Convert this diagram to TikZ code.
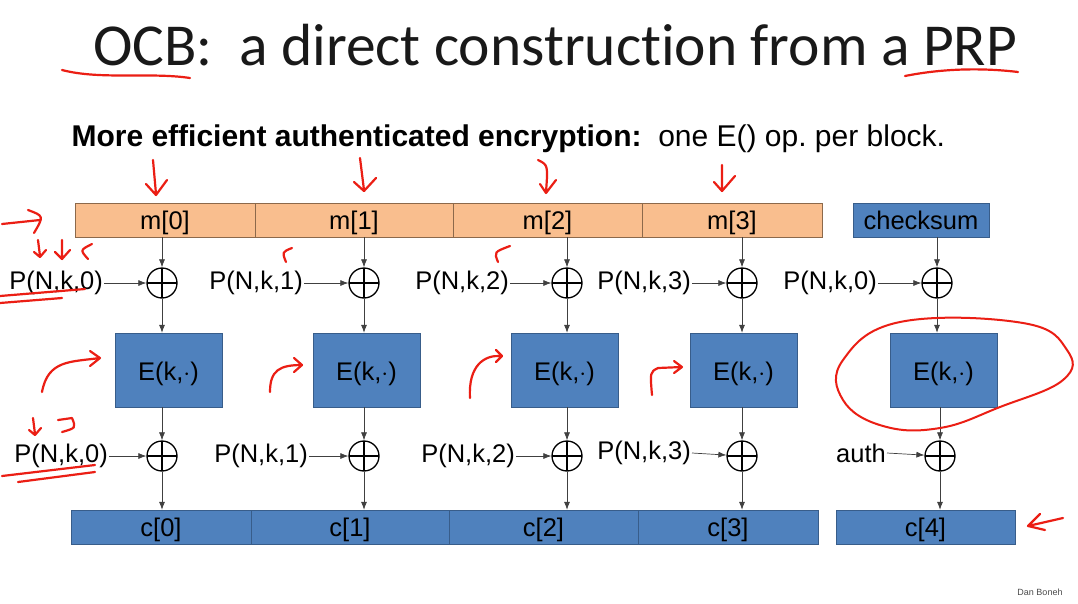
\documentclass[tikz,border=0pt]{standalone}
\usepackage{fontspec}
\setmainfont{Liberation Sans}
\newfontfamily\titlefont[Ligatures=NoCommon]{Carlito}
\usetikzlibrary{arrows.meta,positioning,calc}
\definecolor{msgfill}{RGB}{249,190,142}
\definecolor{msgline}{RGB}{140,105,75}
\definecolor{blkfill}{RGB}{79,129,189}
\definecolor{blkline}{RGB}{56,93,138}
\definecolor{inkred}{RGB}{235,30,20}
\newcommand{\lbfont}{\fontsize{25.5}{30}\selectfont}
\frenchspacing

\begin{document}
\begin{tikzpicture}[x=1pt, y=-1pt,
  tx/.style={text height=19.5pt, text depth=0pt, font=\lbfont},
  mb/.style={tx, draw=msgline, fill=msgfill, minimum height=34pt, inner sep=0pt},
  cb/.style={tx, draw=blkline, fill=blkfill, minimum height=34pt, inner sep=0pt},
  eb/.style={draw=blkline, fill=blkfill, minimum width=107pt, minimum height=74pt, inner sep=0pt,
    text height=21pt, text depth=0pt, font=\lbfont},
  xr/.style={circle, draw, line width=1.3pt, minimum size=30pt, inner sep=0pt,
    path picture={\draw[line width=1.3pt] (path picture bounding box.north) -- (path picture bounding box.south)
      (path picture bounding box.west) -- (path picture bounding box.east);}},
  lb/.style={anchor=east, inner sep=1pt, font=\lbfont},
  ar/.style={-{Latex[length=8pt,width=6pt]}, draw=black!75, line width=0.7pt},
  ink/.style={inkred, line width=2.2pt, line cap=round, line join=round}
]
\useasboundingbox[fill=white] (0,0) rectangle (1078,603);

% title
\node[font=\titlefont\fontsize{59.5}{68}\selectfont, text=black!90] (ttl) at (555,45) {OCB:\ \ a direct construction from a PRP};
\node[anchor=west, font=\fontsize{30}{34}\selectfont] (sub) at (68,139) {\textbf{More efficient authenticated encryption:}\ \ one E() op. per block.};

% message blocks
\node[mb, minimum width=180pt] (m0) at (165,220) {m[0]};
\node[mb, minimum width=198pt] (m1) at (354,220) {m[1]};
\node[mb, minimum width=189pt] (m2) at (547.5,220) {m[2]};
\node[mb, minimum width=180pt] (m3) at (732,220) {m[3]};
\node[cb, minimum width=136pt] (chk) at (921,220) {checksum};

% first xor row
\node[xr] (x0) at (162,283) {};
\node[xr] (x1) at (364,283) {};
\node[xr] (x2) at (567,283) {};
\node[xr] (x3) at (742,283) {};
\node[xr] (x4) at (937,283) {};
\node[lb] (p0) at (104,283) {P(N,k,0)};
\node[lb] (p1) at (304,283) {P(N,k,1)};
\node[lb] (p2) at (510,283) {P(N,k,2)};
\node[lb] (p3) at (692,283) {P(N,k,3)};
\node[lb] (p4) at (878,283) {P(N,k,0)};

% block cipher calls
\node[eb] (e0) at (168.5,370) {E(k,$\cdot$)};
\node[eb] (e1) at (366.5,370) {E(k,$\cdot$)};
\node[eb] (e2) at (564.5,370) {E(k,$\cdot$)};
\node[eb] (e3) at (743.5,370) {E(k,$\cdot$)};
\node[eb] (e4) at (943.5,370) {E(k,$\cdot$)};

% second xor row
\node[xr] (y0) at (162,456) {};
\node[xr] (y1) at (364,456) {};
\node[xr] (y2) at (567,456) {};
\node[xr] (y3) at (742,456) {};
\node[xr] (y4) at (940,456) {};
\node[lb] (q0) at (109,456) {P(N,k,0)};
\node[lb] (q1) at (309,456) {P(N,k,1)};
\node[lb] (q2) at (516,456) {P(N,k,2)};
\node[lb] (q3) at (692,453) {P(N,k,3)};
\node[lb] (au) at (887,453) {auth};

% ciphertext blocks
\node[cb, minimum width=180pt] (c0) at (161,527) {c[0]};
\node[cb, minimum width=198pt] (c1) at (350,527) {c[1]};
\node[cb, minimum width=189pt] (c2) at (543.5,527) {c[2]};
\node[cb, minimum width=180pt] (c3) at (728,527) {c[3]};
\node[cb, minimum width=179pt] (c4) at (925.5,527) {c[4]};

% connectors
\draw[ar] (m0.south -| x0) -- (x0);
\draw[ar] (m1.south -| x1) -- (x1);
\draw[ar] (m2.south -| x2) -- (x2);
\draw[ar] (m3.south -| x3) -- (x3);
\draw[ar] (chk.south -| x4) -- (x4);
\draw[ar] (p0) -- (x0);
\draw[ar] (p1) -- (x1);
\draw[ar] (p2) -- (x2);
\draw[ar] (p3) -- (x3);
\draw[ar] (p4) -- (x4);
\draw[ar] (x0) -- (x0 |- e0.north);
\draw[ar] (x1) -- (x1 |- e1.north);
\draw[ar] (x2) -- (x2 |- e2.north);
\draw[ar] (x3) -- (x3 |- e3.north);
\draw[ar] (x4) -- (x4 |- e4.north);
\draw[ar] (e0.south -| y0) -- (y0);
\draw[ar] (e1.south -| y1) -- (y1);
\draw[ar] (e2.south -| y2) -- (y2);
\draw[ar] (e3.south -| y3) -- (y3);
\draw[ar] (e4.south -| y4) -- (y4);
\draw[ar] (q0) -- (y0);
\draw[ar] (q1) -- (y1);
\draw[ar] (q2) -- (y2);
\draw[ar] (q3.east) -- (y3);
\draw[ar] (au.east) -- (y4);
\draw[ar] (y0) -- (y0 |- c0.north);
\draw[ar] (y1) -- (y1 |- c1.north);
\draw[ar] (y2) -- (y2 |- c2.north);
\draw[ar] (y3) -- (y3 |- c3.north);
\draw[ar] (y4) -- (y4 |- c4.north);

\node[font=\fontsize{9}{10}\selectfont, text=black!70] (auth) at (1040,592) {Dan Boneh};

% hand-drawn marks
\draw[ink] (62,70) .. controls (100,80) and (150,72) .. (190,78);
\draw[ink] (905,76) .. controls (945,68) and (985,68) .. (1018,72);
\draw[ink] (153,160) -- (156,194) (146,184) -- (156,195) -- (167,180);
\draw[ink] (360,158) -- (364,190) (354,182) -- (364,191) -- (376,178);
\draw[ink] (538,160) .. controls (548,165) .. (546,192) (540,184) -- (546,193) -- (556,180);
\draw[ink] (722,165) -- (722,190) (714,182) -- (722,191) -- (735,176);
\draw[ink] (2,224) -- (40,220) (28,210) .. controls (44,216) .. (34,233);
\draw[ink] (38,240) -- (40,256) (34,252) -- (40,257) -- (46,250);
\draw[ink] (62,240) -- (62,258) (55,252) -- (62,259) -- (70,250);
\draw[ink] (92,244) .. controls (80,250) .. (88,259);
\draw[ink] (0,296) -- (85,289) (0,303) -- (62,298);
\draw[ink] (292,248) .. controls (282,252) .. (286,262);
\draw[ink] (510,246) .. controls (494,252) .. (498,262);
\draw[ink] (33,418) -- (35,434) (29,430) -- (35,435) -- (41,428);
\draw[ink] (58,420) -- (72,418) .. controls (76,428) .. (62,432);
\draw[ink] (2,476) -- (95,465) (18,482) -- (95,472);
\draw[ink] (42,392) .. controls (48,360) and (70,362) .. (100,358) (90,351) -- (100,358) -- (90,366);
\draw[ink] (270,392) .. controls (270,370) and (280,365) .. (302,365) (294,358) -- (302,365) -- (294,372);
\draw[ink] (470,398) .. controls (468,365) and (485,355) .. (500,356) (496,350) -- (502,356) -- (496,362);
\draw[ink] (652,395) .. controls (650,372) .. (658,368) -- (682,367) (674,361) -- (682,367) -- (674,373);
\draw[ink, line width=2pt] plot[smooth cycle, tension=0.7] coordinates {(843,360) (900,322) (1023,323) (1067,350) (1063,380) (1000,407) (940,428) (883,426) (843,400)};
\draw[ink] (1063,518) -- (1028,526) (1040,514) -- (1028,526) -- (1045,530);
\end{tikzpicture}
\end{document}
